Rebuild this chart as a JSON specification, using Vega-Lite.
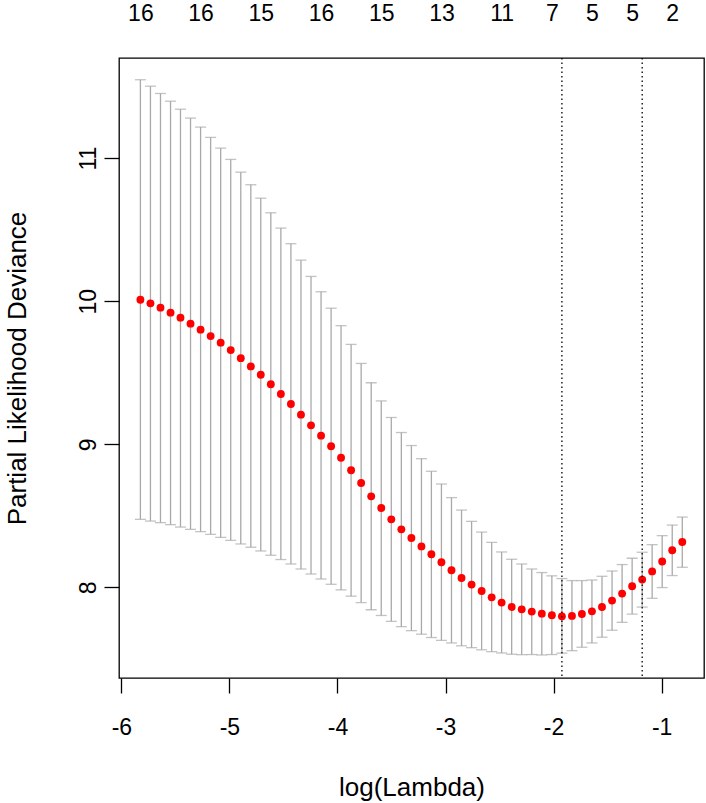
{
  "$schema": "https://vega.github.io/schema/vega-lite/v6.json",
  "width": 585,
  "height": 620,
  "autosize": {"type": "none"},
  "padding": {"left": 119, "top": 58, "right": 2, "bottom": 125},
  "background": "white",
  "config": {
    "font": "Liberation Sans",
    "view": {"stroke": "black", "strokeWidth": 1.3},
    "axis": {"grid": false, "domain": false, "labelColor": "black", "titleColor": "black", "tickColor": "black", "tickWidth": 1.3, "labelFont": "Liberation Sans", "titleFont": "Liberation Sans", "titleFontWeight": "normal"}
  },
  "data": {"values": [
    {"logLambda": -5.824, "mean": 10.010, "upper": 11.548, "lower": 8.475},
    {"logLambda": -5.731, "mean": 9.985, "upper": 11.503, "lower": 8.463},
    {"logLambda": -5.638, "mean": 9.955, "upper": 11.452, "lower": 8.452},
    {"logLambda": -5.545, "mean": 9.920, "upper": 11.398, "lower": 8.438},
    {"logLambda": -5.453, "mean": 9.885, "upper": 11.342, "lower": 8.421},
    {"logLambda": -5.360, "mean": 9.843, "upper": 11.280, "lower": 8.405},
    {"logLambda": -5.267, "mean": 9.801, "upper": 11.217, "lower": 8.389},
    {"logLambda": -5.174, "mean": 9.756, "upper": 11.145, "lower": 8.370},
    {"logLambda": -5.081, "mean": 9.710, "upper": 11.070, "lower": 8.349},
    {"logLambda": -4.988, "mean": 9.658, "upper": 10.991, "lower": 8.328},
    {"logLambda": -4.895, "mean": 9.602, "upper": 10.902, "lower": 8.303},
    {"logLambda": -4.802, "mean": 9.544, "upper": 10.814, "lower": 8.280},
    {"logLambda": -4.710, "mean": 9.486, "upper": 10.720, "lower": 8.254},
    {"logLambda": -4.617, "mean": 9.419, "upper": 10.618, "lower": 8.224},
    {"logLambda": -4.524, "mean": 9.351, "upper": 10.511, "lower": 8.194},
    {"logLambda": -4.431, "mean": 9.281, "upper": 10.402, "lower": 8.163},
    {"logLambda": -4.338, "mean": 9.207, "upper": 10.287, "lower": 8.128},
    {"logLambda": -4.245, "mean": 9.132, "upper": 10.173, "lower": 8.093},
    {"logLambda": -4.152, "mean": 9.060, "upper": 10.066, "lower": 8.058},
    {"logLambda": -4.059, "mean": 8.986, "upper": 9.951, "lower": 8.021},
    {"logLambda": -3.967, "mean": 8.906, "upper": 9.829, "lower": 7.982},
    {"logLambda": -3.874, "mean": 8.818, "upper": 9.698, "lower": 7.938},
    {"logLambda": -3.781, "mean": 8.729, "upper": 9.565, "lower": 7.893},
    {"logLambda": -3.688, "mean": 8.636, "upper": 9.430, "lower": 7.843},
    {"logLambda": -3.595, "mean": 8.554, "upper": 9.303, "lower": 7.803},
    {"logLambda": -3.502, "mean": 8.475, "upper": 9.187, "lower": 7.762},
    {"logLambda": -3.409, "mean": 8.405, "upper": 9.082, "lower": 7.725},
    {"logLambda": -3.316, "mean": 8.345, "upper": 8.991, "lower": 7.697},
    {"logLambda": -3.223, "mean": 8.286, "upper": 8.899, "lower": 7.672},
    {"logLambda": -3.131, "mean": 8.231, "upper": 8.811, "lower": 7.649},
    {"logLambda": -3.038, "mean": 8.175, "upper": 8.722, "lower": 7.629},
    {"logLambda": -2.945, "mean": 8.119, "upper": 8.627, "lower": 7.611},
    {"logLambda": -2.852, "mean": 8.065, "upper": 8.540, "lower": 7.591},
    {"logLambda": -2.759, "mean": 8.019, "upper": 8.461, "lower": 7.578},
    {"logLambda": -2.666, "mean": 7.974, "upper": 8.386, "lower": 7.563},
    {"logLambda": -2.573, "mean": 7.930, "upper": 8.314, "lower": 7.550},
    {"logLambda": -2.481, "mean": 7.893, "upper": 8.247, "lower": 7.541},
    {"logLambda": -2.388, "mean": 7.862, "upper": 8.196, "lower": 7.532},
    {"logLambda": -2.295, "mean": 7.846, "upper": 8.163, "lower": 7.529},
    {"logLambda": -2.202, "mean": 7.830, "upper": 8.128, "lower": 7.530},
    {"logLambda": -2.109, "mean": 7.816, "upper": 8.103, "lower": 7.527},
    {"logLambda": -2.016, "mean": 7.805, "upper": 8.080, "lower": 7.530},
    {"logLambda": -1.923, "mean": 7.797, "upper": 8.061, "lower": 7.540},
    {"logLambda": -1.830, "mean": 7.800, "upper": 8.047, "lower": 7.557},
    {"logLambda": -1.738, "mean": 7.813, "upper": 8.047, "lower": 7.581},
    {"logLambda": -1.645, "mean": 7.832, "upper": 8.051, "lower": 7.611},
    {"logLambda": -1.552, "mean": 7.862, "upper": 8.077, "lower": 7.651},
    {"logLambda": -1.459, "mean": 7.907, "upper": 8.114, "lower": 7.700},
    {"logLambda": -1.366, "mean": 7.956, "upper": 8.159, "lower": 7.755},
    {"logLambda": -1.273, "mean": 8.007, "upper": 8.203, "lower": 7.813},
    {"logLambda": -1.180, "mean": 8.054, "upper": 8.245, "lower": 7.862},
    {"logLambda": -1.088, "mean": 8.111, "upper": 8.298, "lower": 7.923},
    {"logLambda": -0.995, "mean": 8.180, "upper": 8.361, "lower": 7.998},
    {"logLambda": -0.902, "mean": 8.259, "upper": 8.435, "lower": 8.082},
    {"logLambda": -0.809, "mean": 8.317, "upper": 8.491, "lower": 8.140}
  ]},
  "resolve": {"axis": {"x": "independent", "y": "independent"}},
  "layer": [
    {
      "mark": {"type": "rule", "color": "#A9A9A9", "strokeWidth": 1.3},
      "encoding": {
        "x": {"field": "logLambda", "type": "quantitative",
              "scale": {"domain": [-6.022, -0.608], "nice": false, "zero": false},
              "axis": {"orient": "bottom", "values": [-6, -5, -4, -3, -2, -1], "tickSize": 15, "labelFontSize": 23, "labelPadding": 23, "labelExpr": "'' + datum.value", "title": "log(Lambda)", "titleFontSize": 26, "titleBaseline": "alphabetic", "titleY": 117}},
        "y": {"field": "lower", "type": "quantitative",
              "scale": {"domain": [7.366, 11.70], "nice": false, "zero": false},
              "axis": {"orient": "left", "values": [8, 9, 10, 11], "tickSize": 15, "labelFontSize": 23, "labelAngle": 270, "labelAlign": "center", "labelBaseline": "alphabetic", "labelPadding": 9, "labelExpr": "'' + datum.value", "title": "Partial Likelihood Deviance", "titleFontSize": 26, "titleBaseline": "alphabetic", "titleX": -94}},
        "y2": {"field": "upper"}
      }
    },
    {
      "mark": {"type": "tick", "orient": "horizontal", "color": "#A9A9A9", "size": 11, "thickness": 1.3},
      "encoding": {
        "x": {"field": "logLambda", "type": "quantitative", "axis": null},
        "y": {"field": "upper", "type": "quantitative", "axis": null}
      }
    },
    {
      "mark": {"type": "tick", "orient": "horizontal", "color": "#A9A9A9", "size": 11, "thickness": 1.3},
      "encoding": {
        "x": {"field": "logLambda", "type": "quantitative", "axis": null},
        "y": {"field": "lower", "type": "quantitative", "axis": null}
      }
    },
    {
      "mark": {"type": "point", "filled": true, "color": "#FF0000", "opacity": 1, "size": 62, "shape": "circle"},
      "encoding": {
        "x": {"field": "logLambda", "type": "quantitative", "axis": null},
        "y": {"field": "mean", "type": "quantitative", "axis": null}
      }
    },
    {
      "data": {"values": [
        {"line": "lambda.min", "logLambda": -1.923},
        {"line": "lambda.1se", "logLambda": -1.180}
      ]},
      "mark": {"type": "rule", "color": "black", "strokeWidth": 1.3, "strokeDash": [1.5, 3]},
      "encoding": {
        "x": {"field": "logLambda", "type": "quantitative",
              "axis": {"orient": "top", "values": [-5.824, -5.267, -4.710, -4.152, -3.595, -3.038, -2.481, -2.016, -1.645, -1.273, -0.902], "ticks": false, "tickSize": 0, "labelFontSize": 23, "labelBaseline": "alphabetic", "labelPadding": 38, "labelOverlap": false, "labelExpr": "['16','16','15','16','15','13','11','7','5','5','2'][round(datum.index*10)]", "title": null}}
      }
    }
  ]
}
